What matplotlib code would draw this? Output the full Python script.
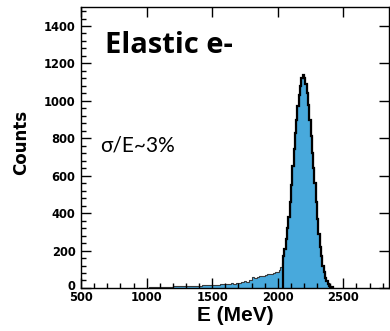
import numpy as np
import matplotlib
matplotlib.use("Agg")
import matplotlib.pyplot as plt
from matplotlib.ticker import MultipleLocator
from matplotlib.transforms import ScaledTranslation

# Low-energy tail: 20 MeV bins from 1000 to 2000 MeV
tail_start = 1000  # [MeV]
tail_width = 20  # [MeV]
tail_counts = [
    2, 3, 3, 4, 5,
    5, 6, 6, 7, 7,
    8, 9, 9, 10, 10,
    11, 10, 12, 12, 13,
    13, 14, 15, 14, 16,
    17, 16, 18, 19, 20,
    21, 22, 24, 23, 26,
    28, 30, 36, 34, 40,
    58, 52, 60, 62, 66,
    70, 72, 75, 80, 86,
]
# Elastic peak: 10 MeV bins from 2000 to 2420 MeV
peak_start = 2000  # [MeV]
peak_width = 10  # [MeV]
peak_counts = [
    88, 95, 110, 135, 170, 210, 260, 320, 380, 460,
    550, 650, 740, 830, 900, 970, 1030, 1080, 1120, 1138,
    1120, 1090, 1040, 980, 900, 810, 720, 640, 560, 460,
    370, 290, 220, 170, 120, 85, 55, 35, 20, 10,
    5, 3,
]
# bins from here on get the heavy (fit) outline
fit_from = 2040  # [MeV]

x_ticks = [500, 1000, 1500, 2000, 2500]
y_ticks = [0, 200, 400, 600, 800, 1000, 1200, 1400]

tail_edges = tail_start + tail_width * np.arange(len(tail_counts))
peak_edges = peak_start + peak_width * np.arange(len(peak_counts) + 1)
edges = np.concatenate([tail_edges, peak_edges])
counts = np.array(tail_counts + peak_counts)

fig = plt.figure(figsize=(3.9, 3.31), dpi=100)
ax = fig.add_axes([0.208, 0.130, 0.790, 0.848])

ax.stairs(counts, edges, fill=True, color="#48a9dc")
ax.stairs(counts, edges, color="#3a3a3a", linewidth=0.8)
sel = edges >= fit_from
ax.stairs(counts[sel[:-1]], edges[sel], color="black", linewidth=1.6)

ax.set_xlim(500, 2850)
ax.set_ylim(0, 1500)
ax.set_xticks(x_ticks)
ax.set_yticks(y_ticks)
ax.xaxis.set_minor_locator(MultipleLocator(100))
ax.yaxis.set_minor_locator(MultipleLocator(40))
ax.tick_params(which="both", direction="in", top=True, right=True,
               width=1, colors="black")
ax.tick_params(which="major", length=7)
ax.tick_params(which="minor", length=3.5, top=False, right=False)
ax.tick_params(axis="x", pad=2.5)
ax.tick_params(axis="y", pad=4)
for lab in ax.get_xticklabels() + ax.get_yticklabels():
    lab.set_fontfamily("DejaVu Sans")
    lab.set_fontweight("bold")
    lab.set_fontsize(8.3)
# the "0" sits just above the "500", as in a ROOT canvas
zero_lab = ax.get_yticklabels()[0]
zero_lab.set_transform(zero_lab.get_transform()
                       + ScaledTranslation(0, 3 / 100, fig.dpi_scale_trans))
for sp in ax.spines.values():
    sp.set_linewidth(1)

ax.set_xlabel("E (MeV)", fontfamily="Liberation Sans", fontweight="bold",
              fontsize=15, labelpad=1)
ax.set_ylabel("Counts", fontfamily="DejaVu Sans", fontweight="bold",
              fontsize=12)
ax.yaxis.set_label_coords(-0.166, 0.52)

fig.text(105 / 390, 1 - 53 / 331, "Elastic e-", fontfamily="Open Sans",
         fontweight="bold", fontsize=21, va="baseline", ha="left")
fig.text(100 / 390, 1 - 152 / 331, "σ/E~3%", fontfamily="Lato",
         fontsize=15, va="baseline", ha="left")

fig.savefig("out.png", dpi=100)
